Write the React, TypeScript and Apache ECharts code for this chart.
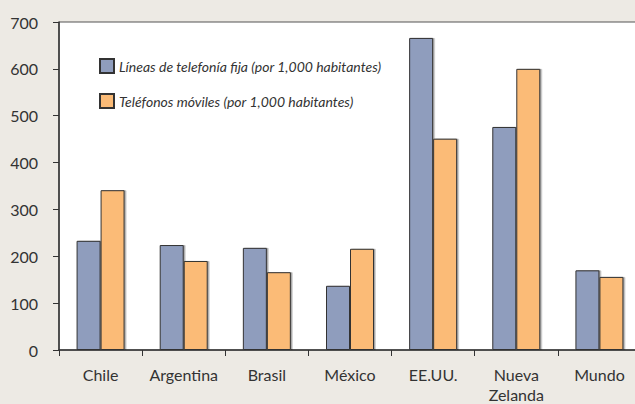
import { useEffect, useRef } from "react";
import * as echarts from "echarts";

// datos
const categories = ["Chile", "Argentina", "Brasil", "México", "EE.UU.", "Nueva\nZelanda", "Mundo"];
const fixedLines = [233, 224, 218, 137, 666, 476, 170];
const mobilePhones = [341, 190, 166, 216, 451, 600, 156];
const seriesNames = [
  "Líneas de telefonía fija (por 1,000 habitantes)",
  "Teléfonos móviles (por 1,000 habitantes)",
];

const FONT = "Lato, 'Open Sans', sans-serif";
const TEXT = "#333333";

export default function App() {
  const chartRef = useRef<HTMLDivElement>(null);

  useEffect(() => {
    if (!chartRef.current) return;
    document.body.style.margin = "0";
    const chart = echarts.init(chartRef.current, null, { renderer: "svg" });

    const barStyle = (color: string) => ({
      color,
      borderColor: "#333333",
      borderWidth: 1,
      shadowColor: "rgba(0,0,0,0.35)",
      shadowOffsetX: 1.5,
      shadowBlur: 0,
    });

    const option: echarts.EChartsOption = {
      animation: false,
      backgroundColor: "#edeae4",
      textStyle: { fontFamily: FONT },
      grid: {
        left: 59,
        top: 22,
        width: 582,
        bottom: 54,
        containLabel: false,
        outerBoundsMode: "none",
        show: true,
        backgroundColor: "#ffffff",
        borderColor: "#555555",
        borderWidth: 1,
      } as any,
      legend: {
        orient: "vertical",
        left: 94,
        top: 53,
        itemWidth: 14,
        itemHeight: 14,
        itemGap: 19,
        icon: "rect",
        textStyle: {
          color: TEXT,
          fontSize: 14,
          fontStyle: "italic",
          fontFamily: FONT,
        },
        data: seriesNames,
      },
      xAxis: {
        type: "category",
        data: categories,
        axisLine: { lineStyle: { color: "#333333", width: 1.5 } },
        axisTick: { show: true, length: 6, lineStyle: { color: "#333333" } },
        axisLabel: {
          interval: 0,
          color: TEXT,
          fontSize: 16,
          fontFamily: FONT,
          margin: 14,
          lineHeight: 20,
        },
      },
      yAxis: {
        type: "value",
        min: 0,
        max: 700,
        interval: 100,
        axisLine: { show: true, lineStyle: { color: "#333333", width: 1.5 } },
        axisTick: { show: true, length: 6, lineStyle: { color: "#333333" } },
        splitLine: { show: false },
        axisLabel: {
          color: TEXT,
          fontSize: 16,
          fontFamily: FONT,
          margin: 21,
          padding: [0, 0, 7, 0],
        },
      },
      series: [
        {
          name: seriesNames[0],
          type: "bar",
          data: fixedLines,
          barWidth: 24,
          barGap: "0%",
          itemStyle: barStyle("#8f9dbd"),
        },
        {
          name: seriesNames[1],
          type: "bar",
          data: mobilePhones,
          barWidth: 24,
          barGap: "0%",
          itemStyle: barStyle("#fbbb77"),
        },
      ],
    };

    chart.setOption(option);
    return () => chart.dispose();
  }, []);

  return <div ref={chartRef} style={{ width: 635, height: 404 }} />;
}
